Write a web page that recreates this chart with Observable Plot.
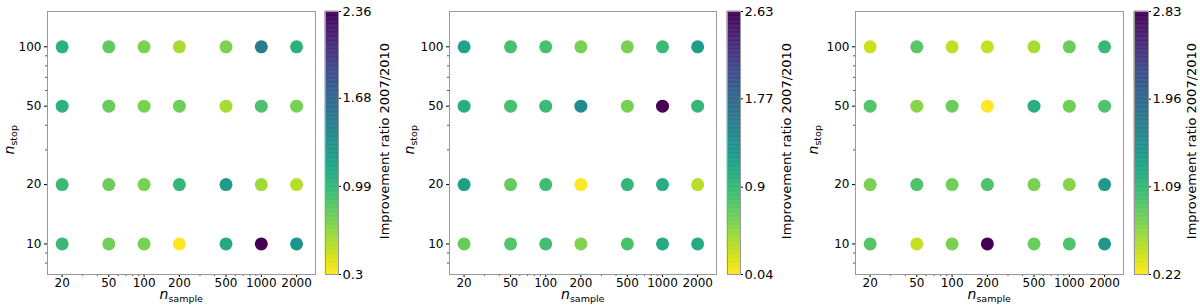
<!DOCTYPE html>
<html><head><meta charset="utf-8">
<script src="https://cdn.jsdelivr.net/npm/d3@7"></script>
<script src="https://cdn.jsdelivr.net/npm/@observablehq/plot@0.6"></script>
<style>
body{margin:0;background:#fff;font-family:"DejaVu Sans",sans-serif;}
#root{position:relative;width:1200px;height:308px;overflow:hidden;background:#fff;}
.abs{position:absolute;}
.lab{position:absolute;font-family:"DejaVu Sans",sans-serif;color:#000;white-space:nowrap;line-height:12px;}
.lab i{font-size:14px;}
.lab sub{font-size:9.5px;vertical-align:-3px;line-height:1;}
</style></head><body><div id="root"></div>
<script>
// x: n_sample, y: n_stop
const nSample = [20, 50, 100, 200, 500, 1000, 2000];
const nStop = [100, 50, 20, 10];
const xMinor = [30, 40, 60, 70, 80, 90, 300, 400, 600, 700, 800, 900];
const yMinor = [8, 9, 30, 40, 60, 70, 80, 90];

// improvement ratio 2007/2010, rows follow nStop, columns follow nSample
const ratio1 = [
  [1.04, 0.80, 0.71, 0.57, 0.71, 1.50, 1.04],
  [1.04, 0.78, 0.72, 0.75, 0.57, 0.88, 0.72],
  [0.96, 0.76, 0.72, 0.99, 1.23, 0.59, 0.53],
  [0.97, 0.75, 0.72, 0.30, 1.12, 2.36, 1.29]
];
const ratio2 = [
  [1.13, 0.79, 0.79, 0.56, 0.56, 0.87, 1.20],
  [1.02, 0.79, 0.87, 1.39, 0.56, 2.63, 0.92],
  [1.18, 0.66, 0.84, 0.04, 0.92, 1.02, 0.32],
  [0.64, 0.74, 0.82, 0.53, 0.79, 1.05, 1.05]
];
const ratio3 = [
  [0.43, 0.90, 0.48, 0.45, 0.56, 0.82, 1.08],
  [0.92, 0.69, 0.82, 0.22, 1.19, 0.79, 0.95],
  [0.74, 0.95, 0.79, 0.95, 0.74, 0.69, 1.42],
  [0.92, 0.45, 0.74, 2.83, 0.82, 0.95, 1.45]
];
const cbTicks1 = [0.3, 0.99, 1.68, 2.36];
const cbTicks2 = [0.04, 0.9, 1.77, 2.63];
const cbTicks3 = [0.22, 1.09, 1.96, 2.83];
const cbLabel = "Improvement ratio 2007/2010";

const panels = [
  {vals: ratio1, cb: cbTicks1, off: 0,   W: 330, fl: 47,  fr: 315,  cbl: 325,  bw: 13, ylx: 2,   ldx: 46},
  {vals: ratio2, cb: cbTicks2, off: 400, W: 330, fl: 449, fr: 716,  cbl: 727,  bw: 13, ylx: 402, ldx: 46},
  {vals: ratio3, cb: cbTicks3, off: 800, W: 340, fl: 855, fr: 1123, cbl: 1134, bw: 14, ylx: 806, ldx: 43}
];

const root = document.getElementById("root");
const MT = 11, MB = 34, H = 308;

panels.forEach(p => {
  const data = [];
  nStop.forEach((s, i) => nSample.forEach((n, j) => data.push({n, s, v: p.vals[i][j]})));
  const color = {type: "linear", scheme: "viridis", reverse: true, domain: [p.cb[0], p.cb[3]]};
  const main = Plot.plot({
    width: p.W, height: H,
    marginLeft: p.fl - p.off, marginRight: p.off + p.W - p.fr, marginTop: MT, marginBottom: MB,
    style: {fontFamily: "DejaVu Sans", fontSize: "12px", color: "#000", background: "transparent", overflow: "visible"},
    x: {type: "log", domain: [15, 2900]},
    y: {type: "log", domain: [7, 151]},
    color,
    marks: [
      Plot.axisX({ticks: xMinor, tickSize: 2, tickFormat: () => "", label: null, stroke: "#555"}),
      Plot.axisY({ticks: yMinor, tickSize: 2, tickFormat: () => "", label: null, stroke: "#555"}),
      Plot.axisX({ticks: nSample, tickSize: 3, tickFormat: d => String(d), label: null, fontSize: 12, tickPadding: 1}),
      Plot.axisY({ticks: nStop, tickSize: 3, tickFormat: d => String(d), label: null, fontSize: 12, tickPadding: 3}),
      Plot.frame({stroke: "#999"}),
      Plot.dot(data, {x: "n", y: "s", fill: "v", r: 6.5})
    ]
  });
  main.classList.add("abs");
  main.style.left = p.off + "px"; main.style.top = "0px";
  root.appendChild(main);

  const N = 200, lo = p.cb[0], hi = p.cb[3], step = (hi - lo) / N;
  const CW = 80;
  const cbar = Plot.plot({
    width: CW, height: H,
    marginLeft: 0, marginRight: CW - p.bw, marginTop: MT, marginBottom: MB,
    style: {fontFamily: "DejaVu Sans", fontSize: "13px", color: "#000", background: "transparent", overflow: "visible"},
    x: {domain: [0, 1], axis: null},
    y: {domain: [lo, hi], axis: null},
    color,
    marks: [
      Plot.rect(d3.range(N), {x1: 0, x2: 1, y1: i => lo + i * step, y2: i => lo + (i + 1) * step,
        fill: i => lo + (i + 0.5) * step, stroke: i => lo + (i + 0.5) * step, strokeWidth: 0.5}),
      Plot.frame({stroke: "#999"}),
      Plot.axisY({anchor: "right", ticks: p.cb, tickFormat: d => String(d), tickSize: 2, label: null, fontSize: 13, tickPadding: 2}),
      Plot.text([cbLabel], {frameAnchor: "right", textAnchor: "middle", dx: p.ldx, dy: -2, rotate: -90, fontSize: 13, text: d => d})
    ]
  });
  cbar.classList.add("abs");
  cbar.style.left = p.cbl + "px"; cbar.style.top = "0px";
  root.appendChild(cbar);

  // axis titles
  const yl = document.createElement("div");
  yl.className = "lab";
  yl.innerHTML = "<i>n</i><sub>stop</sub>";
  root.appendChild(yl);
  const w = yl.offsetWidth, h = yl.offsetHeight;
  yl.style.left = (p.ylx + 8 - w / 2) + "px";
  yl.style.top = (140 - h / 2) + "px";
  yl.style.transform = "rotate(-90deg)";

  const xl = document.createElement("div");
  xl.className = "lab";
  xl.innerHTML = "<i>n</i><sub>sample</sub>";
  root.appendChild(xl);
  xl.style.left = ((p.fl + p.fr) / 2 - xl.offsetWidth / 2) + "px";
  xl.style.top = "288px";
});
</script></body></html>
